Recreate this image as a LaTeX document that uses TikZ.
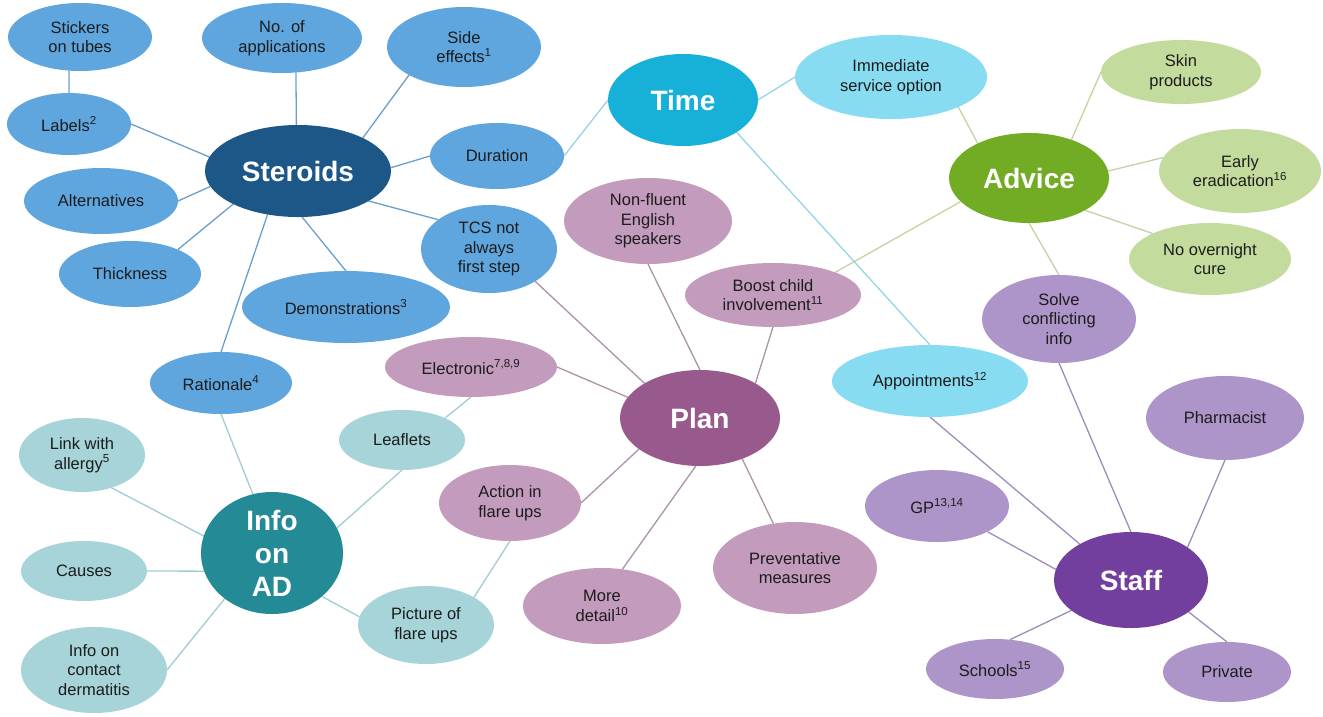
\documentclass[tikz,border=0pt]{standalone}
\usepackage{fontspec}
\setmainfont{Liberation Sans}
\usetikzlibrary{shapes.geometric,backgrounds}
\definecolor{cSter}{HTML}{1C5787}
\definecolor{cBlue}{HTML}{60A6DE}
\definecolor{cTime}{HTML}{16B0D9}
\definecolor{cCyan}{HTML}{88DCF1}
\definecolor{cAdv}{HTML}{72AC24}
\definecolor{cGreen}{HTML}{C3DC9D}
\definecolor{cPlan}{HTML}{985A8C}
\definecolor{cMauve}{HTML}{C39CBD}
\definecolor{cInfo}{HTML}{238A96}
\definecolor{cTeal}{HTML}{A6D4D9}
\definecolor{cStaff}{HTML}{733F9F}
\definecolor{cLilac}{HTML}{AE95C9}
\definecolor{eBlue}{HTML}{6A9FCC}
\definecolor{eCyan}{HTML}{92D6E6}
\definecolor{eGreen}{HTML}{C9CFA3}
\definecolor{eMauve}{HTML}{AB93A8}
\definecolor{eTeal}{HTML}{A0CDD3}
\definecolor{eLilac}{HTML}{9B8EB9}
\definecolor{txtc}{HTML}{1C1C1C}
\tikzset{
  bub/.style={ellipse, draw=none, inner sep=0pt, outer sep=0pt},
  st/.style={font=\fontsize{16.5}{19.5}\selectfont, text=txtc, align=center, inner sep=0pt},
  bg/.style={font=\fontsize{28}{33}\selectfont\bfseries, text=white, align=center, inner sep=0pt},
  con/.style={line width=1.3pt},
}
\begin{document}
\begin{tikzpicture}[x=1pt,y=-1pt]
\useasboundingbox (0,0) rectangle (1323,716);
% Steroids group
\node[bub, fill=cSter, minimum width=186, minimum height=92, label={[bg]center:Steroids}] (ster) at (298,171) {};
\node[bub, fill=cBlue, minimum width=144, minimum height=68, label={[st]center:{Stickers\\on tubes}}] (stick) at (80,37) {};
\node[bub, fill=cBlue, minimum width=160, minimum height=70, label={[st]center:{No. of\\applications}}] (nap) at (282,38) {};
\node[bub, fill=cBlue, minimum width=154, minimum height=80, label={[st]center:{Side\\effects\textsuperscript{1}}}] (side) at (464,47) {};
\node[bub, fill=cBlue, minimum width=124, minimum height=62, label={[st]center:{Labels\textsuperscript{2}}}] (lab) at (69,124) {};
\node[bub, fill=cBlue, minimum width=154, minimum height=66, label={[st]center:{Alternatives}}] (alt) at (101,201) {};
\node[bub, fill=cBlue, minimum width=134, minimum height=66, label={[st]center:{Duration}}] (dur) at (497,156) {};
\node[bub, fill=cBlue, minimum width=136, minimum height=88, label={[st]center:{TCS not\\always\\first step}}] (tcs) at (489,249) {};
\node[bub, fill=cBlue, minimum width=142, minimum height=66, label={[st]center:{Thickness}}] (thick) at (130,274) {};
\node[bub, fill=cBlue, minimum width=208, minimum height=72, label={[st]center:{Demonstrations\textsuperscript{3}}}] (demo) at (346,307) {};
\node[bub, fill=cBlue, minimum width=142, minimum height=62, label={[st]center:{Rationale\textsuperscript{4}}}] (rat) at (221,383) {};
% Time group
\node[bub, fill=cTime, minimum width=150, minimum height=92, label={[bg]center:Time}] (time) at (683,100) {};
\node[bub, fill=cCyan, minimum width=192, minimum height=84, label={[st]center:{Immediate\\service option}}] (imm) at (891,77) {};
\node[bub, fill=cCyan, minimum width=196, minimum height=72, label={[st]center:{Appointments\textsuperscript{12}}}] (app) at (930,381) {};
% Advice group
\node[bub, fill=cAdv, minimum width=160, minimum height=90, label={[bg]center:Advice}] (adv) at (1029,178) {};
\node[bub, fill=cGreen, minimum width=160, minimum height=64, label={[st]center:{Skin\\products}}] (skin) at (1181,72) {};
\node[bub, fill=cGreen, minimum width=162, minimum height=84, label={[st]center:{Early\\eradication\textsuperscript{16}}}] (early) at (1240,171) {};
\node[bub, fill=cGreen, minimum width=162, minimum height=72, label={[st]center:{No overnight\\cure}}] (nover) at (1210,259) {};
% Plan group
\node[bub, fill=cPlan, minimum width=160, minimum height=96, label={[bg]center:Plan}] (plan) at (700,418) {};
\node[bub, fill=cMauve, minimum width=168, minimum height=86, label={[st]center:{Non-fluent\\English\\speakers}}] (nonf) at (648,221) {};
\node[bub, fill=cMauve, minimum width=176, minimum height=64, label={[st]center:{Boost child\\involvement\textsuperscript{11}}}] (boost) at (773,295) {};
\node[bub, fill=cMauve, minimum width=172, minimum height=60, label={[st]center:{Electronic\textsuperscript{7,8,9}}}] (elec) at (471,367) {};
\node[bub, fill=cMauve, minimum width=142, minimum height=76, label={[st]center:{Action in\\flare ups}}] (act) at (510,503) {};
\node[bub, fill=cMauve, minimum width=158, minimum height=76, label={[st]center:{More\\detail\textsuperscript{10}}}] (md) at (602,606) {};
\node[bub, fill=cMauve, minimum width=164, minimum height=92, label={[st]center:{Preventative\\measures}}] (prev) at (795,568) {};
% Info group
\node[bub, fill=cInfo, minimum width=142, minimum height=122, label={[bg]center:{Info\\on\\AD}}] (info) at (272,553) {};
\node[bub, fill=cTeal, minimum width=126, minimum height=60, label={[st]center:{Leaflets}}] (leaf) at (402,440) {};
\node[bub, fill=cTeal, minimum width=136, minimum height=78, label={[st]center:{Picture of\\flare ups}}] (pic) at (426,625) {};
\node[bub, fill=cTeal, minimum width=126, minimum height=74, label={[st]center:{Link with\\allergy\textsuperscript{5}}}] (link) at (82,455) {};
\node[bub, fill=cTeal, minimum width=126, minimum height=60, label={[st]center:{Causes}}] (causes) at (84,571) {};
\node[bub, fill=cTeal, minimum width=146, minimum height=86, label={[st]center:{Info on\\contact\\dermatitis}}] (contact) at (94,670) {};
% Staff group
\node[bub, fill=cStaff, minimum width=154, minimum height=96, label={[bg]center:Staff}] (staff) at (1131,580) {};
\node[bub, fill=cLilac, minimum width=154, minimum height=88, label={[st]center:{Solve\\conflicting\\info}}] (solve) at (1059,319) {};
\node[bub, fill=cLilac, minimum width=158, minimum height=84, label={[st]center:{Pharmacist}}] (pharm) at (1225,418) {};
\node[bub, fill=cLilac, minimum width=144, minimum height=72, label={[st]center:{GP\textsuperscript{13,14}}}] (gp) at (937,506) {};
\node[bub, fill=cLilac, minimum width=138, minimum height=60, label={[st]center:{Schools\textsuperscript{15}}}] (schools) at (995,669) {};
\node[bub, fill=cLilac, minimum width=128, minimum height=60, label={[st]center:{Private}}] (priv) at (1227,672) {};
% connectors
\begin{scope}[on background layer]
\draw[con, eBlue] (stick.252) -- (lab.north);
\draw[con, eBlue] (lab.east) -- (ster.171);
\draw[con, eBlue] (nap.-68) -- (ster.92);
\draw[con, eBlue] (side.207) -- (ster.27);
\draw[con, eBlue] (ster.2) -- (dur.west);
\draw[con, eBlue] (ster.-23) -- (tcs.150);
\draw[con, eBlue] (alt.east) -- (ster.190);
\draw[con, eBlue] (thick.27) -- (ster.207);
\draw[con, eBlue] (ster.235) -- (rat.north);
\draw[con, eBlue] (ster.275) -- (demo.north);
\draw[con, eCyan] (dur.east) -- (time.west);
\draw[con, eCyan] (time.east) -- (imm.west);
\draw[con, eCyan] (time.-31) -- (app.north);
\draw[con, eGreen] (imm.-24) -- (adv.146);
\draw[con, eGreen] (adv.42) -- (skin.west);
\draw[con, eGreen] (adv.5) -- (early.170);
\draw[con, eGreen] (adv.-30) -- (nover.156);
\draw[con, eGreen] (adv.south) -- (solve.north);
\draw[con, eGreen] (adv.199) -- (boost.20);
\draw[con, eMauve] (tcs.-35) -- (plan.148);
\draw[con, eMauve] (nonf.south) -- (plan.north);
\draw[con, eMauve] (boost.south) -- (plan.32);
\draw[con, eMauve] (elec.east) -- (plan.164);
\draw[con, eMauve] (act.east) -- (plan.207);
\draw[con, eMauve] (md.61) -- (plan.265);
\draw[con, eMauve] (prev.116) -- (plan.-44);
\draw[con, eTeal] (rat.south) -- (info.108);
\draw[con, eTeal] (link.-48) -- (info.166);
\draw[con, eTeal] (causes.east) -- (info.195);
\draw[con, eTeal] (contact.east) -- (info.224);
\draw[con, eTeal] (leaf.south) -- (info.21);
\draw[con, eTeal] (info.-41) -- (pic.173);
\draw[con, eTeal] (elec.south) -- (leaf.27);
\draw[con, eTeal] (act.south) -- (pic.30);
\draw[con, eLilac] (app.south) -- (staff.145);
\draw[con, eLilac] (solve.south) -- (staff.north);
\draw[con, eLilac] (pharm.south) -- (staff.30);
\draw[con, eLilac] (gp.-27) -- (staff.172);
\draw[con, eLilac] (schools.63) -- (staff.207);
\draw[con, eLilac] (priv.north) -- (staff.-29);
\end{scope}
\end{tikzpicture}
\end{document}
